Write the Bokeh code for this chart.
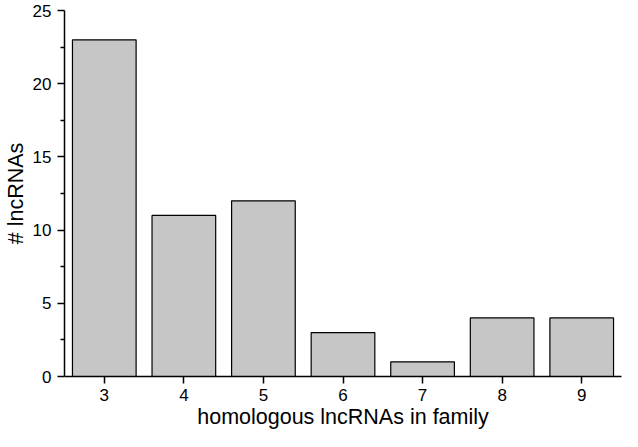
from bokeh.plotting import figure
from bokeh.models import ColumnDataSource, FixedTicker, Range1d
from bokeh.embed import file_html
from bokeh.resources import INLINE

family_size = [3, 4, 5, 6, 7, 8, 9]
n_lncrnas = [23, 11, 12, 3, 1, 4, 4]
y_ticks = [0, 5, 10, 15, 20, 25]
y_minor_ticks = [2.5, 7.5, 12.5, 17.5, 22.5]

src = ColumnDataSource(dict(x=family_size, top=n_lncrnas))

FONT = "Liberation Sans"

p = figure(width=622, height=431, output_backend="svg", toolbar_location=None,
           x_range=Range1d(2.5, 9.5), y_range=Range1d(0, 25),
           min_border_left=20, min_border_top=10, min_border_right=1, min_border_bottom=20)
p.outline_line_color = None
p.grid.visible = False
p.background_fill_color = "white"
p.border_fill_color = "white"

p.vbar(x="x", top="top", width=0.8, bottom=0, source=src,
       fill_color="#c6c6c6", line_color="black", line_width=1.2)

for ax in (p.xaxis[0], p.yaxis[0]):
    ax.axis_line_color = "black"
    ax.axis_line_width = 1.5
    ax.major_tick_line_color = "black"
    ax.major_tick_line_width = 1.5
    ax.major_tick_in = 0
    ax.major_tick_out = 7
    ax.major_label_text_font = FONT
    ax.major_label_text_font_size = "17px"
    ax.major_label_text_color = "black"
    ax.axis_label_text_font = FONT
    ax.axis_label_text_font_size = "21.5px"
    ax.axis_label_text_font_style = "normal"
    ax.axis_label_text_color = "black"

p.xaxis.ticker = FixedTicker(ticks=family_size)
p.xaxis.minor_tick_line_color = None
p.xaxis.axis_label = "homologous lncRNAs in family"
p.xaxis.major_label_standoff = 5
p.xaxis.axis_label_standoff = 1

p.yaxis.ticker = FixedTicker(ticks=y_ticks, minor_ticks=y_minor_ticks)
p.yaxis.minor_tick_line_color = "black"
p.yaxis.minor_tick_line_width = 1.5
p.yaxis.minor_tick_in = 0
p.yaxis.minor_tick_out = 4
p.yaxis.axis_label = "# lncRNAs"
p.yaxis.major_label_standoff = 6
p.yaxis.axis_label_standoff = 2

open("out.html", "w").write(file_html(p, INLINE))
